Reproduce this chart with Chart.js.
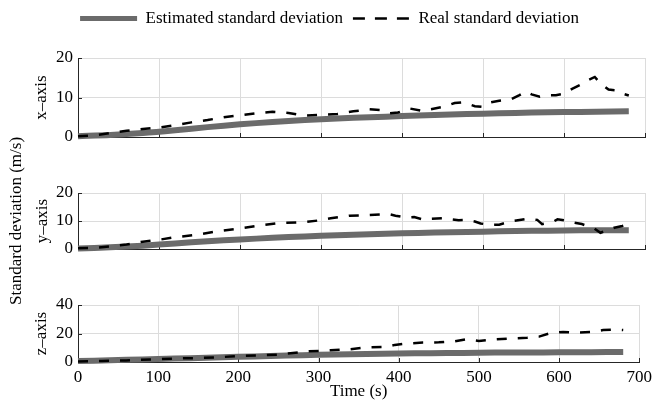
<!DOCTYPE html>
<html>
<head>
<meta charset="utf-8">
<script src="https://cdn.jsdelivr.net/npm/chart.js@4.4.1/dist/chart.umd.min.js"></script>
<style>
  body { margin: 0; background: #fff; }
  #wrap { position: relative; width: 657px; height: 409px; }
  #wrap canvas { position: absolute; left: 0; top: 0; }
</style>
</head>
<body>
<div id="wrap">
  <canvas id="chartX" width="657" height="409"></canvas>
  <canvas id="chartY" width="657" height="409"></canvas>
  <canvas id="chartZ" width="657" height="409"></canvas>
</div>
<script>
// Estimated standard deviation (same time base for the three axes)
const estTime = [0, 40, 80, 120, 160, 200, 240, 280, 320, 360, 400, 440, 480, 520, 560, 600, 640, 680];
const estX = [0.2, 0.5, 1.0, 1.7, 2.5, 3.2, 3.8, 4.3, 4.7, 5.0, 5.3, 5.6, 5.8, 6.0, 6.2, 6.3, 6.4, 6.5];
const estY = [0.2, 0.6, 1.2, 2.0, 2.8, 3.4, 4.0, 4.5, 4.9, 5.3, 5.6, 5.9, 6.1, 6.3, 6.5, 6.6, 6.7, 6.7];
const estZ = [0.7, 1.2, 1.8, 2.4, 3.0, 3.6, 4.2, 4.8, 5.2, 5.7, 6.0, 6.2, 6.4, 6.6, 6.7, 6.8, 6.9, 7.0];

// Real standard deviation, x-axis
const realTimeX = [0, 20, 40, 60, 80, 100, 120, 140, 160, 180, 200, 220, 240, 260, 280, 300, 320, 340, 360, 375, 385, 395,
  410, 425, 435, 450, 465, 475, 490, 500, 510, 520, 535, 545, 553, 560, 570, 580, 590, 600, 610, 620, 630, 638, 645, 655, 665, 672, 680];
const realX = [0.2, 0.4, 1.0, 1.6, 2.0, 2.4, 3.0, 3.7, 4.3, 5.0, 5.5, 6.0, 6.4, 6.1, 5.4, 5.6, 5.8, 6.5, 7.0, 6.8, 6.0, 6.2,
  7.2, 6.6, 7.0, 7.6, 8.6, 8.8, 7.8, 7.6, 8.8, 9.2, 9.6, 10.6, 11.5, 10.8, 10.2, 10.6, 10.6, 11.0, 12.2, 13.2, 14.4, 15.2, 13.6, 12.0, 11.8, 11.0, 10.5];

// Real standard deviation, y-axis
const realTimeY = [0, 20, 40, 60, 80, 100, 120, 145, 170, 200, 225, 250, 280, 300, 312, 335, 360, 383, 392, 405, 415, 428, 435,
  450, 470, 480, 490, 497, 510, 520, 535, 555, 567, 573, 587, 592, 605, 612, 622, 637, 645, 655, 662, 672, 680];
const realY = [0.3, 0.4, 0.9, 1.6, 2.6, 3.3, 4.2, 5.0, 6.2, 7.3, 8.4, 9.3, 9.6, 10.3, 11.0, 11.9, 12.1, 12.5, 11.9, 11.2, 11.4, 10.4, 10.8,
  11.0, 10.3, 10.4, 9.8, 9.1, 8.6, 8.7, 9.9, 10.8, 10.4, 8.9, 9.8, 10.6, 10.0, 9.4, 8.9, 7.4, 5.8, 6.8, 7.6, 8.2, 8.9];

// Real standard deviation, z-axis
const realTimeZ = [0, 30, 60, 90, 120, 150, 175, 200, 230, 250, 265, 285, 300, 315, 340, 360, 385, 395, 410, 430, 450, 470,
  485, 500, 520, 540, 560, 575, 590, 605, 620, 640, 655, 670, 680];
const realZ = [0.4, 0.7, 1.1, 1.8, 2.4, 2.8, 3.3, 4.2, 4.8, 5.2, 6.2, 7.4, 7.8, 8.2, 9.0, 10.2, 10.6, 12.0, 13.0, 13.6, 13.8, 14.5,
  16.0, 14.8, 15.8, 16.5, 17.0, 17.8, 20.5, 21.0, 20.6, 21.0, 22.4, 22.8, 22.4];

const seriesNames = ['Estimated standard deviation', 'Real standard deviation'];
const axisNames = ['x\u2013axis', 'y\u2013axis', 'z\u2013axis'];
const commonTitle = 'Standard deviation (m/s)';
const timeTitle = 'Time (s)';

const serif = 'Liberation Serif, Times New Roman, serif';
const fontSize = 17;
const axisColor = '#262626';
const gridColor = '#dcdcdc';
const estColor = '#6b6b6b';

function points(xs, ys) {
  return xs.map((x, i) => ({ x: x, y: ys[i] }));
}

// MATLAB style ticks pointing into the plot
const inwardTicks = {
  id: 'inwardTicks',
  beforeDatasetsDraw(chart) {
    const ctx = chart.ctx;
    const area = chart.chartArea;
    const xs = chart.scales.x;
    const ys = chart.scales.y;
    ctx.save();
    ctx.strokeStyle = axisColor;
    ctx.lineWidth = 1;
    ctx.beginPath();
    xs.ticks.forEach(t => {
      const px = Math.round(xs.getPixelForValue(t.value)) + 0.5;
      ctx.moveTo(px, area.bottom);
      ctx.lineTo(px, area.bottom - 4);
    });
    ys.ticks.forEach(t => {
      const py = Math.round(ys.getPixelForValue(t.value)) + 0.5;
      ctx.moveTo(area.left, py);
      ctx.lineTo(area.left + 4, py);
    });
    ctx.stroke();
    ctx.restore();
  }
};

// leaves room under the legend
const legendGap = {
  id: 'legendGap',
  beforeInit(chart) {
    if (!chart.legend) return;
    const fit = chart.legend.fit;
    chart.legend.fit = function () {
      fit.call(this);
      this.height += 21;
    };
  }
};

function makeChart(id, est, realT, real, yMax, yStep, cfg) {
  const ctx = document.getElementById(id).getContext('2d');
  return new Chart(ctx, {
    type: 'line',
    data: {
      datasets: [{
        label: seriesNames[0],
        data: points(estTime, est),
        borderColor: estColor,
        backgroundColor: estColor,
        borderWidth: 6,
        pointRadius: 0,
        tension: 0.3,
        clip: 4,
        order: 1
      }, {
        label: seriesNames[1],
        data: points(realT, real),
        borderColor: '#000',
        backgroundColor: '#000',
        borderWidth: 2.5,
        borderDash: [10, 11],
        pointRadius: 0,
        tension: 0,
        clip: 4,
        order: 0
      }]
    },
    options: {
      responsive: false,
      animation: false,
      events: [],
      layout: { padding: cfg.padding },
      plugins: {
        legend: {
          display: cfg.legend,
          position: 'top',
          labels: {
            color: '#000',
            font: { family: serif, size: fontSize },
            usePointStyle: true,
            pointStyle: 'line',
            pointStyleWidth: 57,
            boxHeight: fontSize,
            padding: 10,
            generateLabels(chart) {
              const items = Chart.defaults.plugins.legend.labels.generateLabels(chart);
              items.sort((a, b) => a.datasetIndex - b.datasetIndex);
              items[0].lineWidth = 5;
              items[1].lineDash = [12, 10];
              return items;
            }
          }
        },
        tooltip: { enabled: false }
      },
      scales: {
        x: {
          type: 'linear',
          min: 0,
          max: 700,
          ticks: {
            display: cfg.xLabels,
            stepSize: 100,
            color: '#000',
            padding: 5,
            font: { family: serif, size: fontSize }
          },
          grid: { color: gridColor, drawTicks: false },
          border: { color: axisColor, width: 1 },
          title: {
            display: cfg.xLabels,
            text: timeTitle,
            color: '#000',
            font: { family: serif, size: fontSize },
            padding: { top: 0, bottom: 7 }
          },
          afterFit(scale) { scale.height = cfg.xHeight; }
        },
        y: {
          min: 0,
          max: yMax,
          ticks: {
            stepSize: yStep,
            color: '#000',
            padding: 5,
            font: { family: serif, size: fontSize }
          },
          grid: { color: gridColor, drawTicks: false },
          border: { color: axisColor, width: 1 },
          title: {
            display: true,
            text: cfg.yTitle,
            color: '#000',
            font: { family: serif, size: fontSize, lineHeight: 26 / fontSize },
            padding: { top: cfg.titlePad, bottom: 0 }
          },
          afterFit(scale) { scale.width = 78 - cfg.padding.left; }
        }
      }
    },
    plugins: [inwardTicks, legendGap]
  });
}

makeChart('chartX', estX, realTimeX, realX, 20, 10, {
  padding: { left: 14, right: 12, top: 0, bottom: 272 },
  legend: true, xLabels: false, xHeight: 0,
  yTitle: axisNames[0], titlePad: 15
});

makeChart('chartY', estY, realTimeY, realY, 20, 10, {
  padding: { left: 0, right: 12, top: 172, bottom: 160 },
  legend: false, xLabels: false, xHeight: 0,
  yTitle: [commonTitle, axisNames[1]], titlePad: 4
});

makeChart('chartZ', estZ, realTimeZ, realZ, 40, 20, {
  padding: { left: 0, right: 12, top: 284, bottom: 0 },
  legend: false, xLabels: true, xHeight: 47,
  yTitle: axisNames[2], titlePad: 29
});
</script>
</body>
</html>
